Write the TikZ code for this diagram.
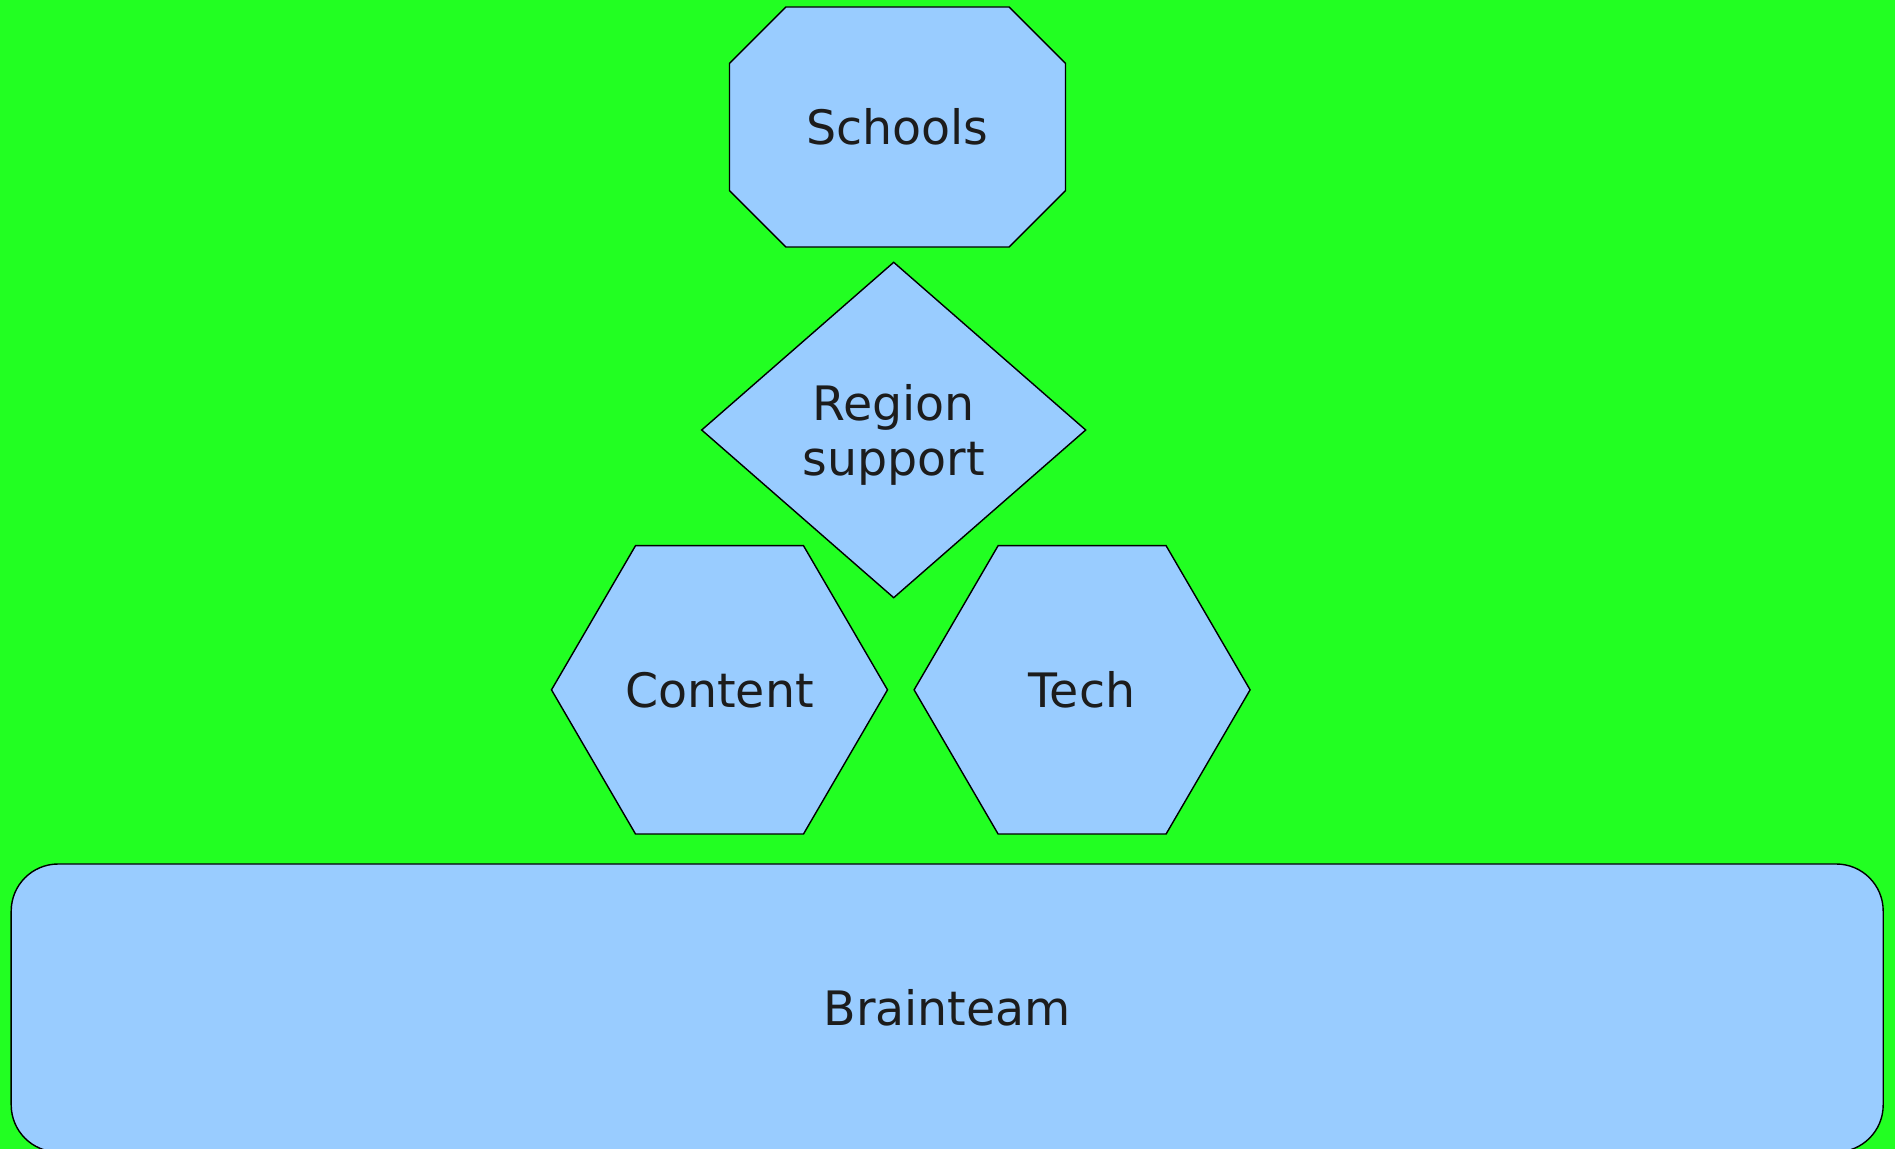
\documentclass[tikz,border=0pt]{standalone}
\usepackage{fontspec}
\setmainfont{DejaVu Sans}
\usetikzlibrary{shapes.geometric, shapes.misc, positioning, calc, backgrounds}
\definecolor{bggreen}{HTML}{22FF22}
\definecolor{boxblue}{HTML}{99CCFF}
\definecolor{textgray}{HTML}{1C1C1C}
\tikzstyle{block} = [
    draw=black,
    line width=0.4pt,
    fill=boxblue,
    text=textgray,
    inner sep=0pt,
    outer sep=0pt,
    align=center,
    font=\fontsize{13.5}{15.8}\selectfont
]
\tikzstyle{octagon} = [
    block,
    chamfered rectangle,
    chamfered rectangle xsep=0.381cm,
    chamfered rectangle ysep=0.381cm,
    minimum width=3.36cm,
    minimum height=2.40cm
]
\tikzstyle{rhombus} = [
    block,
    diamond,
    text depth=0pt,
    minimum width=3.84cm,
    minimum height=3.354cm
]
\tikzstyle{hexagon} = [
    block,
    rectangle,
    draw=none,
    fill=none,
    minimum width=3.36cm,
    minimum height=2.883cm
]
\tikzstyle{hexline} = [draw=black, line width=0.4pt, fill=boxblue]
\tikzstyle{team} = [
    block,
    rectangle,
    rounded corners=0.47cm,
    minimum width=18.72cm,
    minimum height=2.88cm
]

\begin{document}
\begin{tikzpicture}
\useasboundingbox (0,0) rectangle (18.95,-11.49);
\clip (0,0) rectangle (18.95,-11.49);

% Nodes
\node (schools) [octagon] at (8.975,-1.27) {Schools};
\node (region) [rhombus, below=0.153cm of schools, xshift=-0.038cm] {Region\\support};
\node (content) [hexagon, below=-0.52cm of region, xshift=-1.742cm] {Content};
\node (tech) [hexagon, right=0.266cm of content] {Tech};
\node (brain) [team, below=0.30cm of content, xshift=2.277cm] {Brainteam};

% Background and hexagon outlines
\begin{scope}[on background layer]
\fill[bggreen] (0,0) rectangle (18.95,-11.49);
\draw[hexline] ($(content.north west)+(0.84,0)$) -- ($(content.north east)+(-0.84,0)$) -- (content.east)
    -- ($(content.south east)+(-0.84,0)$) -- ($(content.south west)+(0.84,0)$) -- (content.west) -- cycle;
\draw[hexline] ($(tech.north west)+(0.84,0)$) -- ($(tech.north east)+(-0.84,0)$) -- (tech.east)
    -- ($(tech.south east)+(-0.84,0)$) -- ($(tech.south west)+(0.84,0)$) -- (tech.west) -- cycle;
\end{scope}

\end{tikzpicture}
\end{document}
